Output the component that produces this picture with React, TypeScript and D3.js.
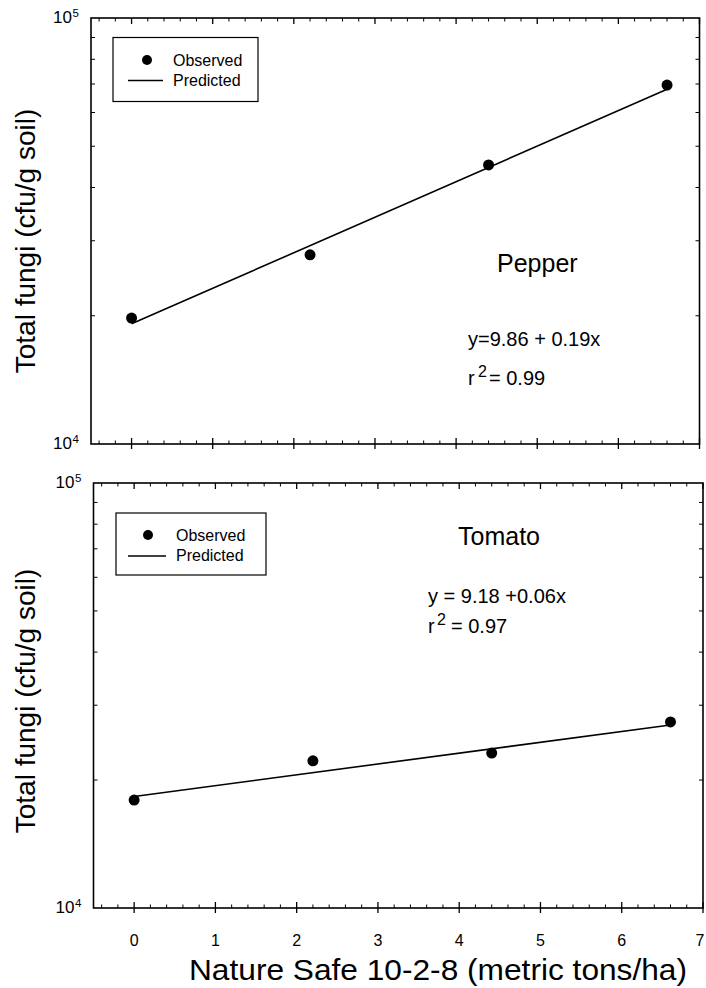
import React from "react";
import * as d3 from "d3";

// ---- data ----
const doses = [0, 2.2, 4.4, 6.6];
const pepperObserved = [19750, 27800, 45200, 69600];
const pepperPredictedX = [0, 6.6];
const pepperPredicted = [19150, 68000];
const tomatoObserved = [17950, 22200, 23150, 27400];
const tomatoPredictedX = [0, 6.6];
const tomatoPredicted = [18300, 26950];
const xDomain = [-0.5, 7];
const yDomain = [1e4, 1e5];
const legendLabels = ["Observed", "Predicted"];
const xTitle = "Nature Safe 10-2-8 (metric tons/ha)";
const yTitle = "Total fungi (cfu/g soil)";

const FONT = "'Liberation Sans', Arial, Helvetica, sans-serif";

type PanelProps = {
  left: number; right: number; top: number; bottom: number;
  observed: number[]; predX: number[]; pred: number[];
  showXLabels: boolean;
  legend: { x: number; y: number; w: number; h: number; dotX: number; dotY: number; lineX1: number; lineX2: number; lineY: number; textX: number; b1: number; b2: number };
  name: string; nameX: number; nameY: number;
  eq: string; eqX: number; eqY: number; r2: string; r2Y: number; r2Offsets: [number, number];
  yTitleY: number;
};

function Panel(p: PanelProps) {
  const x = d3.scaleLinear().domain(xDomain).range([p.left, p.right]);
  const y = d3.scaleLog().domain(yDomain).range([p.bottom, p.top]);
  const major = x.ticks(7);
  const minor = x.ticks(35).filter((t) => Math.abs(t - Math.round(t)) > 1e-6);
  const yMinor = y.ticks().filter((t) => t > yDomain[0] && t < yDomain[1]);
  const line = d3.line<number>().x((_, i) => x(p.predX[i])).y((d) => y(d));
  const sw = 1.6;
  return (
    <g>
      {/* frame */}
      <rect x={p.left} y={p.top} width={p.right - p.left} height={p.bottom - p.top} fill="none" stroke="#000" strokeWidth={sw} />
      {/* bottom ticks */}
      {major.map((t) => (
        <line key={"bm" + t} x1={x(t)} x2={x(t)} y1={p.bottom - 6} y2={p.bottom + 5} stroke="#000" strokeWidth={1.3} />
      ))}
      {minor.map((t) => (
        <line key={"bn" + t} x1={x(t)} x2={x(t)} y1={p.bottom - 3.5} y2={p.bottom} stroke="#000" strokeWidth={1} />
      ))}
      {/* top ticks */}
      {major.map((t) => (
        <line key={"tm" + t} x1={x(t)} x2={x(t)} y1={p.top} y2={p.top + 6} stroke="#000" strokeWidth={1.3} />
      ))}
      {minor.map((t) => (
        <line key={"tn" + t} x1={x(t)} x2={x(t)} y1={p.top} y2={p.top + 3.5} stroke="#000" strokeWidth={1} />
      ))}
      {/* y ticks */}
      {yMinor.map((t) => (
        <g key={"y" + t}>
          <line x1={p.left} x2={p.left + 4} y1={y(t)} y2={y(t)} stroke="#000" strokeWidth={1} />
          <line x1={p.right - 4} x2={p.right} y1={y(t)} y2={y(t)} stroke="#000" strokeWidth={1} />
        </g>
      ))}
      {/* y labels */}
      {[yDomain[1], yDomain[0]].map((v) => (
        <g key={"yl" + v}>
          <text x={p.left - 19} y={y(v) + 5} fontFamily={FONT} fontSize={17} textAnchor="end">10</text>
          <text x={p.left - 18.5} y={y(v) - 1} fontFamily={FONT} fontSize={11.5}>{Math.round(Math.log10(v))}</text>
        </g>
      ))}
      {p.showXLabels && major.map((t) => (
        <text key={"xl" + t} x={Math.min(x(t), 700)} y={p.bottom + 38} fontFamily={FONT} fontSize={16} textAnchor="middle">{t}</text>
      ))}
      {/* y title */}
      <text transform={`translate(35,${p.yTitleY}) rotate(-90)`} fontFamily={FONT} fontSize={28} textAnchor="middle">{yTitle}</text>
      {/* predicted */}
      <path d={line(p.pred) || ""} fill="none" stroke="#000" strokeWidth={1.6} />
      {/* observed */}
      {p.observed.map((v, i) => (
        <circle key={"o" + i} cx={x(doses[i])} cy={y(v)} r={5.5} fill="#000" />
      ))}
      {/* legend */}
      <rect x={p.legend.x} y={p.legend.y} width={p.legend.w} height={p.legend.h} fill="none" stroke="#000" strokeWidth={1.2} />
      <circle cx={p.legend.dotX} cy={p.legend.dotY} r={5} fill="#000" />
      <line x1={p.legend.lineX1} x2={p.legend.lineX2} y1={p.legend.lineY} y2={p.legend.lineY} stroke="#000" strokeWidth={1.4} />
      <text x={p.legend.textX} y={p.legend.b1} fontFamily={FONT} fontSize={16}>{legendLabels[0]}</text>
      <text x={p.legend.textX} y={p.legend.b2} fontFamily={FONT} fontSize={16}>{legendLabels[1]}</text>
      {/* name */}
      <text x={p.nameX} y={p.nameY} fontFamily={FONT} fontSize={25}>{p.name}</text>
      {/* equation */}
      <text x={p.eqX} y={p.eqY} fontFamily={FONT} fontSize={20}>{p.eq}</text>
      <text x={p.eqX} y={p.r2Y} fontFamily={FONT} fontSize={20}>r</text>
      <text x={p.eqX + p.r2Offsets[0]} y={p.r2Y - 8} fontFamily={FONT} fontSize={16}>2</text>
      <text x={p.eqX + p.r2Offsets[1]} y={p.r2Y} fontFamily={FONT} fontSize={20}>{p.r2}</text>
    </g>
  );
}

export default function App() {
  return (
    <svg width={706} height={988} style={{ position: "absolute", left: 0, top: 0, background: "#fff" }}>
      <rect x={0} y={0} width={706} height={988} fill="#fff" />
      <Panel
        left={91} right={699.5} top={18} bottom={444}
        observed={pepperObserved} predX={pepperPredictedX} pred={pepperPredicted}
        showXLabels={false}
        legend={{ x: 113, y: 37.5, w: 145, h: 64, dotX: 147, dotY: 60, lineX1: 128, lineX2: 163, lineY: 80.5, textX: 173, b1: 66, b2: 86 }}
        name="Pepper" nameX={497} nameY={272}
        eq="y=9.86 + 0.19x" eqX={468} eqY={346}
        r2="= 0.99" r2Y={385} r2Offsets={[10, 21]}
        yTitleY={241}
      />
      <Panel
        left={93.5} right={703} top={483} bottom={908}
        observed={tomatoObserved} predX={tomatoPredictedX} pred={tomatoPredicted}
        showXLabels={true}
        legend={{ x: 116, y: 513, w: 150, h: 62, dotX: 148, dotY: 535, lineX1: 128, lineX2: 166, lineY: 556, textX: 176, b1: 541, b2: 561 }}
        name="Tomato" nameX={458} nameY={545}
        eq="y = 9.18 +0.06x" eqX={428} eqY={603}
        r2="= 0.97" r2Y={633} r2Offsets={[9, 23]}
        yTitleY={701}
      />
      <text x={438} y={980} fontFamily={FONT} fontSize={30} textAnchor="middle" textLength={498} lengthAdjust="spacingAndGlyphs">{xTitle}</text>
    </svg>
  );
}
